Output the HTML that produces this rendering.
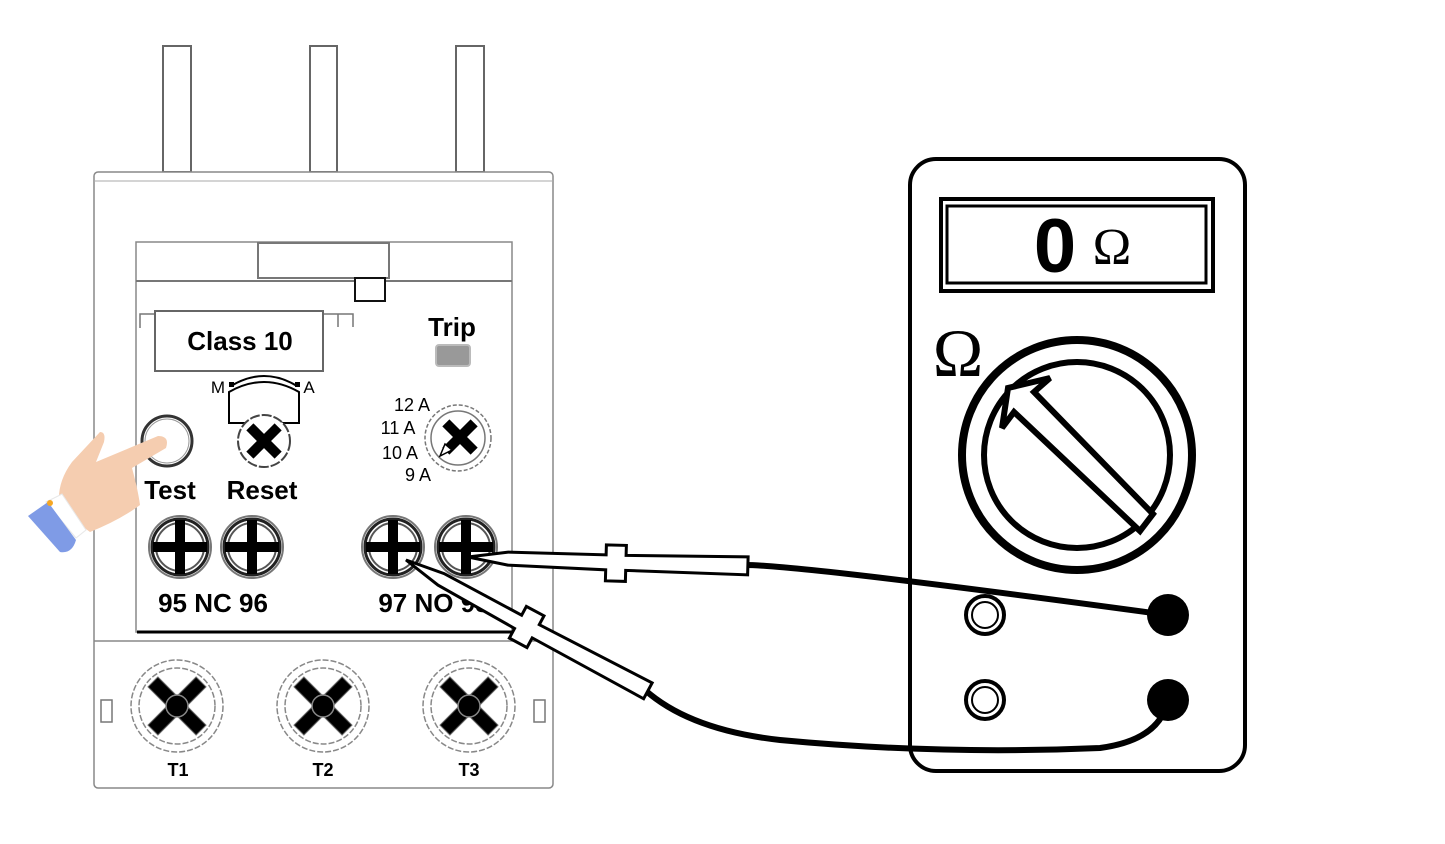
<!DOCTYPE html>
<html><head><meta charset="utf-8"><style>
html,body{margin:0;padding:0;background:#fff;}
svg{display:block;}
text{font-family:"Liberation Sans",sans-serif;}
.serif{font-family:"Liberation Serif","DejaVu Serif",serif;}
</style></head><body>
<svg width="1445" height="844" viewBox="0 0 1445 844" xmlns="http://www.w3.org/2000/svg">
<defs>
<g id="plus">
<circle r="31" fill="#fff" stroke="#777" stroke-width="2"/>
<circle r="28" fill="none" stroke="#222" stroke-width="3"/>
<circle r="24" fill="none" stroke="#555" stroke-width="2"/>
<rect x="-5" y="-27" width="10" height="54" fill="#000"/>
<rect x="-27" y="-5" width="54" height="10" fill="#000"/>
</g>
<g id="xscrew">
<circle r="46" fill="#fff" stroke="#888" stroke-width="1.5" stroke-dasharray="6 2"/>
<circle r="38" fill="none" stroke="#888" stroke-width="1.5" stroke-dasharray="6 2"/>
<g transform="rotate(45)"><rect x="-7" y="-34" width="14" height="68" fill="#000" stroke="#666"/><rect x="-34" y="-7" width="68" height="14" fill="#000" stroke="#666"/></g>
<circle r="11" fill="#000" stroke="#888" stroke-width="1.5"/>
</g>
</defs>

<rect x="163" y="46" width="28" height="126" fill="#fff" stroke="#666" stroke-width="2"/>
<rect x="310" y="46" width="27" height="126" fill="#fff" stroke="#666" stroke-width="2"/>
<rect x="456" y="46" width="28" height="126" fill="#fff" stroke="#666" stroke-width="2"/>
<rect x="94" y="172" width="459" height="616" rx="4" fill="#fff" stroke="#888" stroke-width="1.5"/>
<line x1="94" y1="181" x2="553" y2="181" stroke="#aaa" stroke-width="1"/>
<rect x="136" y="242" width="376" height="390" fill="#fff" stroke="#888" stroke-width="1.5"/>
<line x1="136" y1="281" x2="512" y2="281" stroke="#777" stroke-width="2"/>
<rect x="258" y="243" width="131" height="35" fill="#fff" stroke="#777" stroke-width="2"/>
<rect x="355" y="278" width="30" height="23" fill="#fff" stroke="#111" stroke-width="2"/>
<path d="M140 328 V314 H155 M323 314 H338 V327 M338 314 H353 V327" fill="none" stroke="#777" stroke-width="1.5"/>
<rect x="155" y="311" width="168" height="60" fill="#fff" stroke="#666" stroke-width="2"/>
<text x="240" y="350" font-size="26" font-weight="bold" text-anchor="middle">Class 10</text>
<text x="452" y="336" font-size="26" font-weight="bold" text-anchor="middle">Trip</text>
<rect x="436" y="345" width="34" height="21" rx="3" fill="#999" stroke="#bbb" stroke-width="2"/>
<text x="218" y="393" font-size="17" text-anchor="middle">M</text>
<text x="309" y="393" font-size="17" text-anchor="middle">A</text>
<path d="M231 386 Q264 366 297 386" fill="none" stroke="#000" stroke-width="2"/>
<path d="M229 392 Q264 372 299 392 V423 H229 Z" fill="#fff" stroke="#000" stroke-width="2"/>
<rect x="229" y="382" width="5" height="5"/><rect x="295" y="382" width="5" height="5"/>
<circle cx="167" cy="441" r="25" fill="#fff" stroke="#333" stroke-width="3"/>
<circle cx="167" cy="441" r="22" fill="none" stroke="#999" stroke-width="1"/>
<circle cx="264" cy="441" r="26" fill="#fff" stroke="#444" stroke-width="2" stroke-dasharray="10 2"/>
<g transform="translate(264,441) rotate(45)"><rect x="-5" y="-20" width="10" height="40"/><rect x="-20" y="-5" width="40" height="10"/></g>
<text x="170" y="499" font-size="26" font-weight="bold" text-anchor="middle">Test</text>
<text x="262" y="499" font-size="26" font-weight="bold" text-anchor="middle">Reset</text>
<text x="412" y="411" font-size="18" text-anchor="middle">12 A</text>
<text x="398" y="434" font-size="18" text-anchor="middle">11 A</text>
<text x="400" y="459" font-size="18" text-anchor="middle">10 A</text>
<text x="418" y="481" font-size="18" text-anchor="middle">9 A</text>
<circle cx="458" cy="438" r="33" fill="#fff" stroke="#777" stroke-width="1.5" stroke-dasharray="4 2"/>
<circle cx="458" cy="438" r="27" fill="none" stroke="#777" stroke-width="1.5"/>
<g transform="translate(460,437) rotate(45)"><rect x="-5" y="-20" width="10" height="40"/><rect x="-20" y="-5" width="40" height="10"/></g>
<path d="M440 456 L445 444 L452 450 Z" fill="#fff" stroke="#000" stroke-width="1.5"/>
<use href="#plus" x="180" y="547"/>
<use href="#plus" x="252" y="547"/>
<use href="#plus" x="393" y="547"/>
<use href="#plus" x="466" y="547"/>
<text x="213" y="612" font-size="26" font-weight="bold" text-anchor="middle">95 NC 96</text>
<text x="434" y="612" font-size="26" font-weight="bold" text-anchor="middle">97 NO 98</text>
<line x1="137" y1="632" x2="512" y2="632" stroke="#000" stroke-width="3"/>
<line x1="94" y1="641" x2="553" y2="641" stroke="#888" stroke-width="1.5"/>
<rect x="101" y="700" width="11" height="22" fill="#fff" stroke="#777" stroke-width="1.5"/>
<rect x="534" y="700" width="11" height="22" fill="#fff" stroke="#777" stroke-width="1.5"/>
<use href="#xscrew" x="177" y="706"/>
<use href="#xscrew" x="323" y="706"/>
<use href="#xscrew" x="469" y="706"/>
<text x="178" y="776" font-size="18" font-weight="bold" text-anchor="middle">T1</text>
<text x="323" y="776" font-size="18" font-weight="bold" text-anchor="middle">T2</text>
<text x="469" y="776" font-size="18" font-weight="bold" text-anchor="middle">T3</text>

<!-- hand -->
<path d="M100 432 Q106 432 104 442 L96 462 L158 436 Q170 436 166 448 L132 468 Q138 490 140 505 Q120 520 90 532 L60 510 Q55 485 72 462 Z" fill="#f5cdb0"/>
<path d="M46 502 L62 494 L86 530 L76 538 Z" fill="#fff" stroke="#e8e8e8"/>
<path d="M28 516 L48 502 L76 540 Q72 554 60 552 Z" fill="#7f9be6"/>
<circle cx="50" cy="503" r="3" fill="#f5a623"/>

<!-- multimeter -->
<rect x="910" y="159" width="335" height="612" rx="26" fill="#fff" stroke="#000" stroke-width="4"/>
<rect x="941" y="199" width="272" height="92" fill="#fff" stroke="#000" stroke-width="4"/>
<rect x="947" y="206" width="259" height="77" fill="#fff" stroke="#000" stroke-width="3"/>
<text x="1055" y="272" font-size="76" font-weight="bold" text-anchor="middle">0</text>
<text x="1112" y="264" font-size="52" class="serif" style="font-family:'Liberation Serif',serif" text-anchor="middle">Ω</text>
<text x="958" y="376" font-size="68" class="serif" style="font-family:'Liberation Serif',serif" text-anchor="middle">Ω</text>
<circle cx="1077" cy="455" r="115" fill="#fff" stroke="#000" stroke-width="8"/>
<circle cx="1077" cy="455" r="93" fill="#fff" stroke="#000" stroke-width="6"/>
<polygon points="1002,428 1008,388 1050,378 1034,392 1153,514 1140,531 1014,412" fill="#fff" stroke="#000" stroke-width="6" stroke-linejoin="miter"/>
<circle cx="985" cy="615" r="19" fill="#fff" stroke="#000" stroke-width="4"/>
<circle cx="985" cy="615" r="13" fill="#fff" stroke="#000" stroke-width="2"/>
<circle cx="985" cy="700" r="19" fill="#fff" stroke="#000" stroke-width="4"/>
<circle cx="985" cy="700" r="13" fill="#fff" stroke="#000" stroke-width="2"/>

<path d="M745 565 Q800 565 1168 615" fill="none" stroke="#000" stroke-width="6"/>
<path d="M645 690 Q690 730 780 740 Q940 755 1100 748 Q1160 740 1168 700" fill="none" stroke="#000" stroke-width="6"/>
<circle cx="1168" cy="615" r="21"/>
<circle cx="1168" cy="700" r="21"/>

<g transform="translate(468,557) rotate(1.6)">
<polygon points="0,0 40,-6 138,-6 138,-16 158,-16 158,-6 280,-8 280,10 158,9 158,20 138,20 138,9 40,7" fill="#fff" stroke="#000" stroke-width="3" stroke-linejoin="miter"/>
</g>
<g transform="translate(406,560) rotate(28.2)">
<polygon points="0,0 40,-6 128,-6 128,-16 148,-16 148,-6 275,-8 275,10 148,9 148,20 128,20 128,9 40,7" fill="#fff" stroke="#000" stroke-width="3" stroke-linejoin="miter"/>
</g>
</svg>
</body></html>
